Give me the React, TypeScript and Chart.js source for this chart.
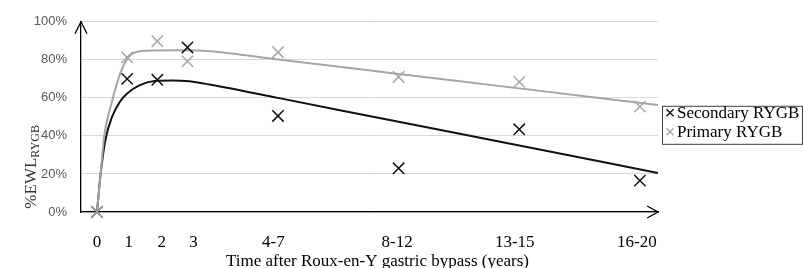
import React, { useEffect, useRef } from 'react';
import { Chart, registerables } from 'chart.js';

Chart.register(...registerables);

// Tick labels and where they sit on the (years) axis
const xTickLabels = ['0', '1', '2', '3', '4-7', '8-12', '13-15', '16-20'];
const xTickValues = [0, 1.05, 2.15, 3.2, 5.85, 9.95, 13.85, 17.9];
const xMin = -0.53;
const xMax = 18.6;

// Observed points (%EWL)
const markerYears = [0, 1, 2, 3, 6, 10, 14, 18];
const secondaryValues = [0, 70, 69.5, 86.5, 50.5, 23, 43.5, 16.5];
const primaryValues = [0, 81.3, 89.8, 79.2, 84, 71, 68.4, 55.4];

// Fitted trend curves
const secondaryTrendYears = [0, 0.12, 0.28, 0.5, 0.76, 1, 1.42, 1.97, 2.5, 3.07, 3.73, 6, 10, 14, 18.6];
const secondaryTrendValues = [0, 20, 38, 50, 58, 62.3, 66.7, 69, 69.2, 68.7, 67, 60, 47.4, 35, 20.5];
const primaryTrendYears = [0, 0.12, 0.24, 0.48, 0.76, 1, 1.2, 1.64, 2.74, 3.73, 6, 10, 14, 18.6];
const primaryTrendValues = [0, 20, 40, 57, 72.5, 80.5, 83.5, 84.8, 85, 84.5, 80.2, 72.6, 65, 56.3];

const seriesNames = ['Secondary RYGB', 'Primary RYGB'];
const BLACK = '#111111';
const GRAY = '#a6a6a6';

const zip = (xs: number[], ys: number[]) => xs.map((x, i) => ({ x, y: ys[i] }));

const decorPlugin = {
  id: 'decor',
  afterDraw(chart: any) {
    const { ctx, chartArea: a } = chart;
    ctx.save();
    // axis arrows
    ctx.strokeStyle = '#000';
    ctx.lineWidth = 1.3;
    ctx.beginPath();
    ctx.moveTo(a.left - 6, a.top + 12);
    ctx.lineTo(a.left, a.top);
    ctx.lineTo(a.left + 6, a.top + 12);
    ctx.stroke();
    ctx.beginPath();
    ctx.moveTo(a.right - 11, a.bottom - 6);
    ctx.lineTo(a.right, a.bottom);
    ctx.lineTo(a.right - 11, a.bottom + 6);
    ctx.stroke();

    // x title
    ctx.fillStyle = '#000';
    ctx.font = '17px "Liberation Serif"';
    ctx.textAlign = 'center';
    ctx.textBaseline = 'middle';
    ctx.fillText('Time after Roux-en-Y gastric bypass (years)', (a.left + a.right) / 2 + 8, a.bottom + 50);

    // y title with subscript
    ctx.save();
    ctx.translate(a.left - 45, a.top + 145);
    ctx.rotate(-Math.PI / 2);
    ctx.textAlign = 'left';
    ctx.textBaseline = 'alphabetic';
    ctx.font = '17px "Liberation Serif"';
    const main = '%EWL';
    const mw = ctx.measureText(main).width;
    ctx.font = '12px "Liberation Serif"';
    const sub = 'RYGB';
    const sw = ctx.measureText(sub).width;
    const start = -(mw + sw) / 2;
    ctx.font = '17px "Liberation Serif"';
    ctx.fillStyle = '#333';
    ctx.fillText(main, start, 0);
    ctx.font = '12px "Liberation Serif"';
    ctx.fillText(sub, start + mw, 3);
    ctx.restore();

    // legend
    const lx = a.right + 4;
    const ly = a.top + 84;
    const lw = 140;
    const lh = 38;
    ctx.fillStyle = '#fff';
    ctx.fillRect(lx, ly, lw, lh);
    ctx.strokeStyle = '#404040';
    ctx.lineWidth = 1;
    ctx.strokeRect(lx + 0.5, ly + 0.5, lw, lh);
    const colors = [BLACK, GRAY];
    seriesNames.forEach((name, i) => {
      const cy = ly + 7 + i * 19;
      const cx = lx + 8;
      ctx.strokeStyle = colors[i];
      ctx.lineWidth = 1.4;
      ctx.beginPath();
      ctx.moveTo(cx - 3.5, cy - 3.5);
      ctx.lineTo(cx + 3.5, cy + 3.5);
      ctx.moveTo(cx + 3.5, cy - 3.5);
      ctx.lineTo(cx - 3.5, cy + 3.5);
      ctx.stroke();
      ctx.fillStyle = '#000';
      ctx.font = '17px "Liberation Serif"';
      ctx.textAlign = 'left';
      ctx.textBaseline = 'middle';
      ctx.fillText(name, cx + 7, cy + 1);
    });
    ctx.restore();
  },
};

export default function App() {
  const ref = useRef<HTMLCanvasElement | null>(null);
  useEffect(() => {
    if (!ref.current) return;
    const chart = new Chart(ref.current, {
      type: 'line',
      data: {
        datasets: [
          {
            label: seriesNames[1],
            data: zip(markerYears, primaryValues),
            showLine: false,
            pointStyle: 'crossRot',
            pointRadius: 8,
            pointBorderWidth: 1.5,
            pointBorderColor: GRAY,
            pointBackgroundColor: GRAY,
            borderColor: GRAY,
            clip: false,
            order: 0,
          },
          {
            label: seriesNames[0],
            data: zip(markerYears, secondaryValues),
            showLine: false,
            pointStyle: 'crossRot',
            pointRadius: 8,
            pointBorderWidth: 1.5,
            pointBorderColor: BLACK,
            pointBackgroundColor: BLACK,
            borderColor: BLACK,
            clip: false,
            order: 1,
          },
          {
            label: 'Primary trend',
            data: zip(primaryTrendYears, primaryTrendValues),
            borderColor: GRAY,
            borderWidth: 2,
            pointRadius: 0,
            cubicInterpolationMode: 'monotone',
            order: 2,
          },
          {
            label: 'Secondary trend',
            data: zip(secondaryTrendYears, secondaryTrendValues),
            borderColor: BLACK,
            borderWidth: 2,
            pointRadius: 0,
            cubicInterpolationMode: 'monotone',
            order: 3,
          },
        ],
      } as any,
      options: {
        responsive: false,
        animation: false,
        layout: { padding: { left: 0, right: 145, top: 19, bottom: 0 } },
        plugins: { legend: { display: false }, tooltip: { enabled: false }, title: { display: false } },
        scales: {
          x: {
            type: 'linear',
            min: xMin,
            max: xMax,
            grid: { display: false, drawTicks: false },
            border: { display: true, color: '#000', width: 1.3 },
            afterBuildTicks: (s: any) => {
              s.ticks = xTickValues.map((v) => ({ value: v }));
            },
            afterFit: (s: any) => {
              s.height = 56;
            },
            ticks: {
              autoSkip: false,
              maxRotation: 0,
              padding: 20,
              color: '#000',
              font: { family: '"Liberation Serif"', size: 17 },
              callback: (_v: any, i: number) => xTickLabels[i],
            },
          },
          y: {
            min: 0,
            max: 100,
            grid: { color: '#d9d9d9', drawTicks: false, lineWidth: 1 },
            border: { display: true, color: '#000', width: 1.3 },
            afterFit: (s: any) => {
              s.width = 81;
            },
            ticks: {
              stepSize: 20,
              padding: 14,
              color: '#595959',
              font: { family: '"Liberation Sans"', size: 13 },
              callback: (v: any) => v + '%',
            },
          },
        },
      } as any,
      plugins: [decorPlugin],
    });
    return () => chart.destroy();
  }, []);
  return (
    <div style={{ position: 'absolute', left: 0, top: 0, width: 803, height: 268, background: '#fff' }}>
      <canvas ref={ref} width={803} height={268} style={{ display: 'block' }} />
    </div>
  );
}
